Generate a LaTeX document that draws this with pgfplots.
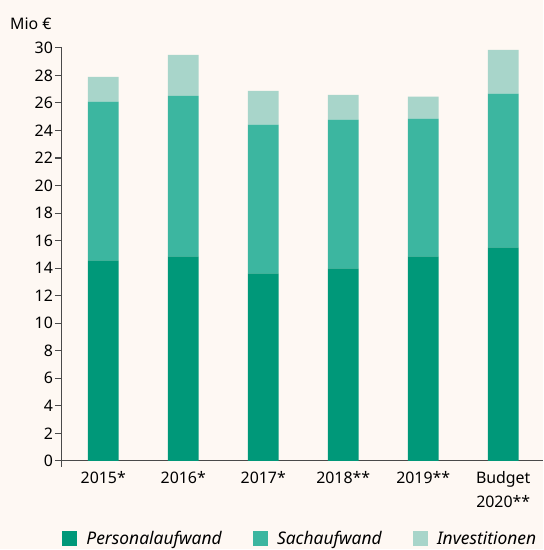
\documentclass[border=0pt]{standalone}
\usepackage{fontspec}
\setmainfont{Noto Sans}
\usepackage{pgfplots}
\pgfplotsset{compat=1.18}
\definecolor{bg}{HTML}{FEF8F3}
\definecolor{c1}{HTML}{009879}
\definecolor{c2}{HTML}{3CB6A0}
\definecolor{c3}{HTML}{A8D5CA}
\definecolor{axc}{HTML}{4A4A4A}
\begin{document}
\begin{tikzpicture}
\fill[bg] (-62bp,-88bp) rectangle (482bp,462bp);
\begin{axis}[
  at={(0,0)}, anchor=south west,
  width=482bp, height=414bp, scale only axis,
  ybar stacked, bar width=31bp,
  xmin=-0.5175, xmax=5.4925, ymin=0, ymax=30,
  ytick={0,2,...,30},
  xtick={0,1,2,3,4,5},
  xticklabels={2015*,2016*,2017*,2018**,2019**,{Budget\\2020**}},
  xticklabel style={align=center, font=\fontsize{16}{24}\selectfont},
  yticklabel style={font=\fontsize{16}{18}\selectfont},
  /pgf/number format/assume math mode=true,
  axis x line=bottom, axis y line=left,
  axis line style={-, axc, line width=1.2bp},
  y axis line style={shorten <=-6bp},
  x tick style={draw=none},
  y tick style={axc, line width=1.1bp},
  tick align=outside, major tick length=7bp,
  yticklabel shift=-1.5bp,
  clip=false,
  legend columns=3,
  legend style={draw=none, fill=none, at={(0,0)}, anchor=west, yshift=-78bp, xshift=-3bp,
    font=\itshape\fontsize{17.5}{19}\selectfont,
    /tikz/every odd column/.append style={column sep=7bp},
    /tikz/every even column/.append style={column sep=29bp}},
  legend image code/.code={\fill[#1] (0bp,-7.5bp) rectangle (15.5bp,7.5bp);},
]
\addplot[fill=c1, draw=none] coordinates {(0,14.57) (1,14.86) (2,13.62) (3,13.99) (4,14.86) (5,15.51)};
\addplot[fill=c2, draw=none] coordinates {(0,11.52) (1,11.66) (2,10.80) (3,10.79) (4,10.00) (5,11.16)};
\addplot[fill=c3, draw=none] coordinates {(0,1.81) (1,2.97) (2,2.46) (3,1.81) (4,1.59) (5,3.19)};
\legend{Personalaufwand, Sachaufwand, Investitionen}
\node[anchor=west, font=\fontsize{16}{18}\selectfont, inner sep=0pt] at (rel axis cs:0,1) [xshift=-52bp, yshift=24bp] {Mio €};
\end{axis}
\end{tikzpicture}
\end{document}
